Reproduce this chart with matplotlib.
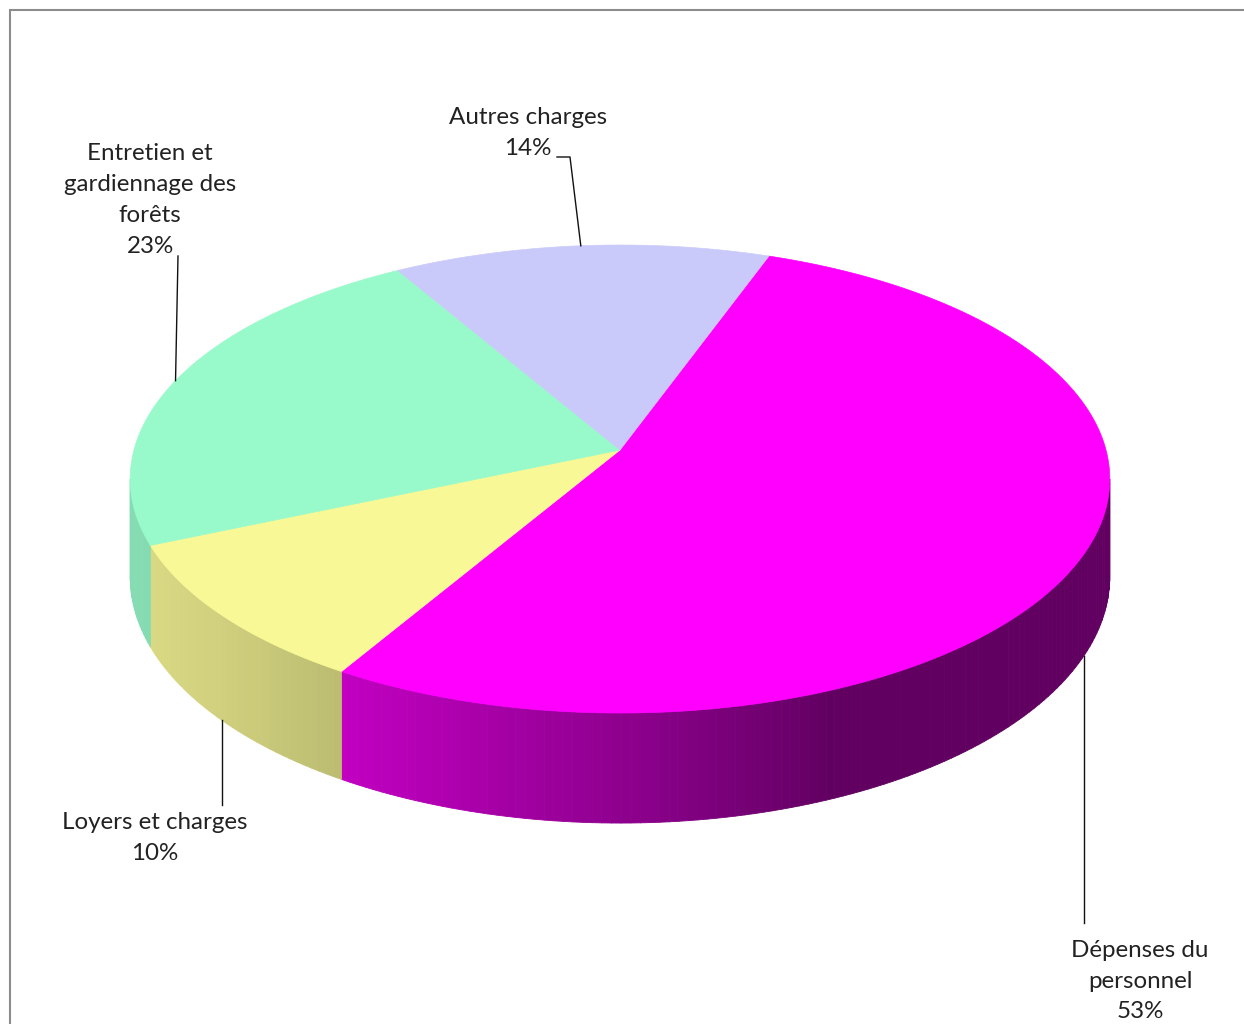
import numpy as np
import matplotlib.pyplot as plt
from matplotlib.collections import PolyCollection
from matplotlib.colors import to_rgb

# données
categories = ['Dépenses du\npersonnel', 'Loyers et charges',
              'Entretien et\ngardiennage des\nforêts', 'Autres charges']
parts = [53, 10, 23, 14]
colors = ['#ff00ff', '#f8f896', '#98faca', '#cacafa']

# mise en page des étiquettes (centre du bloc de texte, bout du trait de rappel)
label_xy = [(1140, 981), (155, 838), (150, 200), (528, 133)]
leader_end = [(None, 923), (None, 805), (178, 256), (557, 157)]

plt.rcParams['font.family'] = ['Lato', 'DejaVu Sans']

fig = plt.figure(figsize=(12.44, 10.24), dpi=100)
ax = fig.add_axes([0, 0, 1, 1])
ax.set_xlim(0, 1244)
ax.set_ylim(1024, 0)
ax.axis('off')

# camembert 3D en perspective
cx, cy = 620, 450
R, r = 486, 230.4
k = 0.124
h0 = 96.4
start = 70.0


def proj(t_deg, drop=0.0):
    t = np.radians(t_deg)
    X = np.cos(t)
    Y = -np.sin(t)
    w = 1 / (1 - k * Y)
    return cx + R * X * w, cy + (r * Y + drop) * w


def shade(t_deg):
    d = (t_deg % 360) - 195
    return max(0.38, 0.38 + 0.5 * np.cos(np.radians(d * 0.92)))


total = sum(parts)
bounds = []
a = start
for p in parts:
    b = a - 360 * p / total
    bounds.append((b, a))
    a = b

vis_lo = 180 + np.degrees(np.arcsin(k))
vis_hi = 360 - np.degrees(np.arcsin(k))

# faces latérales (bandes pour le dégradé)
strips, strip_cols = [], []
for (a, b), col in zip(bounds, colors):
    base = np.array(to_rgb(col))
    for sh in (-360, 0, 360):
        lo = max(a, vis_lo + sh)
        hi = min(b, vis_hi + sh)
        if hi <= lo:
            continue
        ts = np.linspace(lo, hi, int(np.ceil(hi - lo)) + 1)
        for t1, t2 in zip(ts[:-1], ts[1:]):
            x1, y1 = proj(t1)
            x2, y2 = proj(t2)
            x3, y3 = proj(t2, h0)
            x4, y4 = proj(t1, h0)
            strips.append([(x1, y1), (x2, y2), (x3, y3), (x4, y4)])
            strip_cols.append(base * shade((t1 + t2) / 2))
ax.add_collection(PolyCollection(strips, facecolors=strip_cols,
                                 edgecolors=strip_cols, linewidths=0.6))

# faces supérieures
tops, top_cols = [], []
for (a, b), col in zip(bounds, colors):
    ts = np.linspace(b, a, int(np.ceil(b - a)) * 2 + 1)
    pts = [(cx, cy)] + [proj(t) for t in ts]
    tops.append(pts)
    top_cols.append(col)
ax.add_collection(PolyCollection(tops, facecolors=top_cols,
                                 edgecolors=top_cols, linewidths=0.5))

# étiquettes et traits de rappel
for (a, b), lab, p, (lx, ly), (ex, ey) in zip(bounds, categories, parts,
                                              label_xy, leader_end):
    m = (a + b) / 2
    mm = m % 360
    drop = h0 if vis_lo <= mm <= vis_hi else 0.0
    ax_, ay_ = proj(m, drop)
    if ex is None:
        ax.plot([ax_, ax_], [ay_, ey], color='#111111', lw=1.0)
    elif ey < ay_ and abs(ex - ax_) > 8:
        ax.plot([ax_, ex + 13, ex], [ay_, ey, ey], color='#111111', lw=1.0)
    else:
        ax.plot([ax_, ex], [ay_, ey], color='#111111', lw=1.0)
    ax.text(lx, ly, f'{lab}\n{p}%', ha='center', va='center',
            multialignment='center', fontsize=17.4, color='#222222',
            linespacing=1.57)

# cadre
ax.plot([10, 10, 1244], [1024, 10, 10], color='#8c8c8c', lw=1.5,
        solid_joinstyle='miter')

fig.savefig('out.png', dpi=100)
